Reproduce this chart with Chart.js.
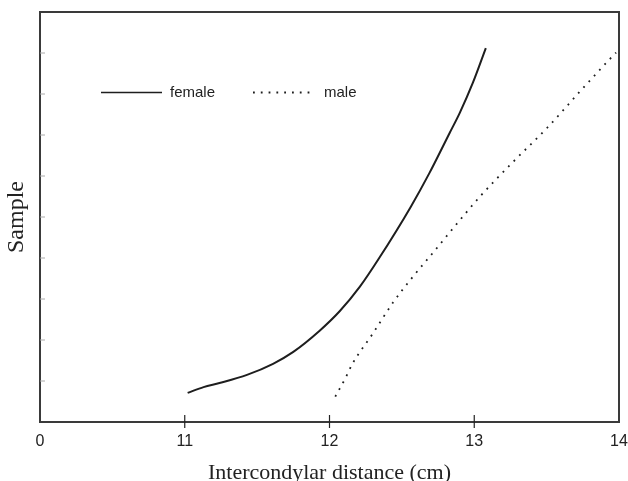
<!DOCTYPE html>
<html>
<head>
<meta charset="utf-8">
<script src="https://cdn.jsdelivr.net/npm/chart.js@4/dist/chart.umd.min.js"></script>
<style>
  html, body { margin: 0; padding: 0; background: #fff; }
  #wrap { width: 628px; height: 481px; }
</style>
</head>
<body>
<div id="wrap"><canvas id="graphique"></canvas></div>
<script>
// valeurs
const femaleX = [11.02, 11.13, 11.24, 11.43, 11.61, 11.75, 11.93, 12.07, 12.21, 12.34, 12.56, 12.69, 12.83, 12.90, 12.99, 13.08];
const femaleY = [0.71, 0.85, 0.95, 1.15, 1.42, 1.71, 2.22, 2.70, 3.30, 3.98, 5.24, 6.07, 7.05, 7.54, 8.27, 9.12];
const maleX = [12.04, 12.11, 12.16, 12.30, 12.44, 12.58, 12.72, 12.86, 13.04, 13.27, 13.50, 13.73, 13.92, 13.98];
const maleY = [0.62, 1.07, 1.43, 2.16, 2.92, 3.56, 4.15, 4.75, 5.50, 6.35, 7.16, 8.06, 8.79, 9.01];
const xTicks = [10, 11, 12, 13, 14];
const xTickLabels = ["0", "11", "12", "13", "14"];
const yTicks = [1, 2, 3, 4, 5, 6, 7, 8, 9];
const seriesNames = ["female", "male"];

function points(xs, ys) {
    let p = [];
    for (let n = 0; n < xs.length; n++) {
        p.push({x: xs[n], y: ys[n]});
    }
    return p;
}

// cadre, graduations et legende dans la zone du graphique
const cadre = {
    id: "cadre",
    afterDraw(chart) {
        const ctx = chart.ctx;
        const a = chart.chartArea;
        const sx = chart.scales.x;
        const sy = chart.scales.y;
        ctx.save();
        ctx.strokeStyle = "#3a3a3a";
        ctx.lineWidth = 2;
        ctx.strokeRect(a.left, a.top, a.right - a.left, a.bottom - a.top);

        ctx.strokeStyle = "#222";
        ctx.lineWidth = 1.2;
        xTicks.slice(1, -1).forEach(v => {
            const px = sx.getPixelForValue(v);
            ctx.beginPath();
            ctx.moveTo(px, a.bottom - 7);
            ctx.lineTo(px, a.bottom + 6);
            ctx.stroke();
        });

        ctx.strokeStyle = "#aaa";
        ctx.lineWidth = 1;
        yTicks.forEach(v => {
            const py = sy.getPixelForValue(v);
            ctx.beginPath();
            ctx.moveTo(a.left, py);
            ctx.lineTo(a.left + 5, py);
            ctx.stroke();
        });

        // legende
        const yl = 92.5;
        const items = [[101, 162, 170], [253, 315, 324]];
        ctx.font = "15px 'Liberation Sans', Arial, sans-serif";
        ctx.textBaseline = "alphabetic";
        ctx.fillStyle = "#222";
        chart.data.datasets.forEach((ds, i) => {
            const it = items[i];
            ctx.strokeStyle = ds.borderColor;
            ctx.lineWidth = i === 0 ? 1.5 : ds.borderWidth;
            ctx.setLineDash(ds.borderDash || []);
            ctx.beginPath();
            ctx.moveTo(it[0], yl);
            ctx.lineTo(it[1], yl);
            ctx.stroke();
            ctx.setLineDash([]);
            ctx.fillText(ds.label, it[2], yl + 4);
        });
        ctx.restore();
    }
};

const donnees = {
    type: "line",
    data: {
        datasets: [
            {
                label: seriesNames[0],
                data: points(femaleX, femaleY),
                borderColor: "#1e1e1e",
                borderWidth: 2,
                pointRadius: 0,
                cubicInterpolationMode: "monotone"
            },
            {
                label: seriesNames[1],
                data: points(maleX, maleY),
                borderColor: "#1e1e1e",
                borderWidth: 1.8,
                borderDash: [1.8, 6],
                borderCapStyle: "butt",
                pointRadius: 0,
                cubicInterpolationMode: "monotone"
            }
        ]
    },
    options: {
        responsive: true,
        maintainAspectRatio: false,
        animation: false,
        layout: { padding: { top: 12, right: 9, left: 0, bottom: 0 } },
        plugins: {
            legend: { display: false },
            tooltip: { enabled: false }
        },
        scales: {
            x: {
                type: "linear",
                min: 10,
                max: 14,
                afterBuildTicks: s => { s.ticks = xTicks.map(v => ({value: v})); },
                afterFit: s => { s.height = 59; s.paddingLeft = 0; s.paddingRight = 0; },
                grid: { display: false },
                border: { display: false },
                ticks: {
                    padding: 2,
                    color: "#222",
                    font: { family: "'Liberation Sans', Arial, sans-serif", size: 16 },
                    maxRotation: 0,
                    autoSkip: false,
                    callback: v => xTickLabels[xTicks.indexOf(v)]
                },
                title: {
                    display: true,
                    text: "Intercondylar distance (cm)",
                    color: "#222",
                    font: { family: "'Liberation Serif', 'Times New Roman', serif", size: 22, lineHeight: 0.7 },
                    padding: 0
                }
            },
            y: {
                type: "linear",
                min: 0,
                max: 10,
                afterFit: s => { s.width = 40; },
                grid: { display: false },
                border: { display: false },
                ticks: { display: false, stepSize: 1 },
                title: {
                    display: true,
                    text: "Sample",
                    color: "#222",
                    font: { family: "'Liberation Serif', 'Times New Roman', serif", size: 24, lineHeight: 1 },
                    padding: { top: 5, bottom: 0 }
                }
            }
        }
    },
    plugins: [cadre]
};

window.graphique = new Chart(document.getElementById("graphique"), donnees);
</script>
</body>
</html>
